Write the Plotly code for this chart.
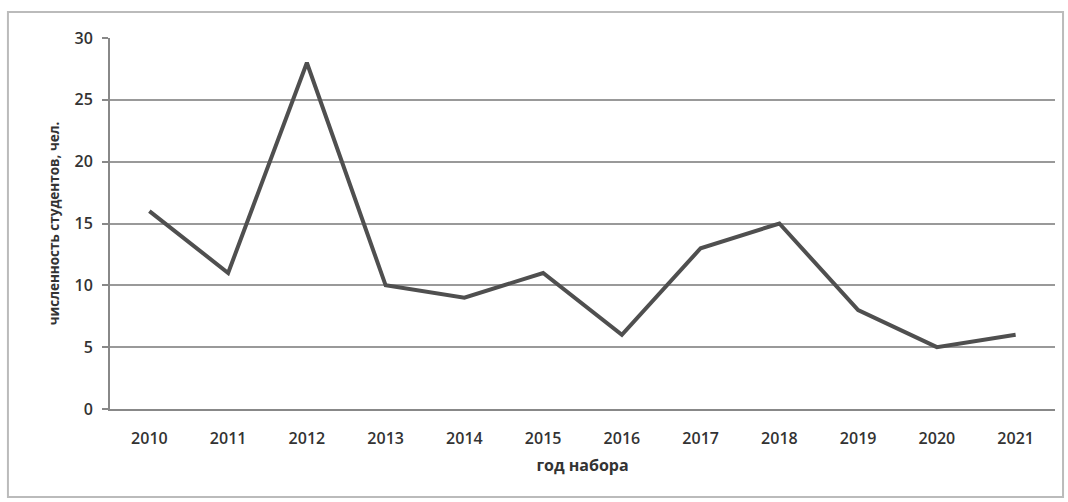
import plotly.graph_objects as go

years = ["2010", "2011", "2012", "2013", "2014", "2015", "2016", "2017", "2018", "2019", "2020", "2021"]
students = [16, 11, 28, 10, 9, 11, 6, 13, 15, 8, 5, 6]
y_ticks = [0, 5, 10, 15, 20, 25, 30]

fig = go.Figure()
fig.add_trace(go.Scatter(
    x=years, y=students, mode="lines",
    line=dict(color="#4f4f4f", width=4),
    showlegend=False,
))

font_family = "Open Sans, Liberation Sans, sans-serif"

fig.update_layout(
    width=1068, height=502,
    margin=dict(l=110, r=13, t=38, b=93),
    paper_bgcolor="white", plot_bgcolor="white",
    font=dict(family=font_family, color="#333333"),
    xaxis=dict(
        type="category", range=[-0.5, 11.5],
        showgrid=False, showline=True, linecolor="#888888", linewidth=2,
        ticks="", tickfont=dict(size=16, color="#333333", weight=600),
        ticklabelstandoff=14,
        title=dict(text="год набора", font=dict(size=16, color="#333333", weight=700), standoff=12),
        zeroline=False,
    ),
    yaxis=dict(
        range=[0, 30], tickvals=y_ticks,
        showgrid=True, gridcolor="#999999", gridwidth=2,
        showline=True, linecolor="#888888", linewidth=2,
        ticks="outside", ticklen=6, tickcolor="#888888", tickwidth=2,
        tickfont=dict(size=16, color="#333333", weight=600),
        ticklabelstandoff=6,
        title=dict(text="численность студентов, чел.", font=dict(size=13.5, color="#333333", weight=700), standoff=12),
        zeroline=False,
    ),
    shapes=[
        dict(type="rect", xref="paper", yref="paper",
             x0=-0.108, x1=1.0085, y0=-0.237, y1=1.07,
             line=dict(color="#bbbbbb", width=2), fillcolor="rgba(0,0,0,0)", layer="below"),
    ],
)

fig.write_html("out.html")
